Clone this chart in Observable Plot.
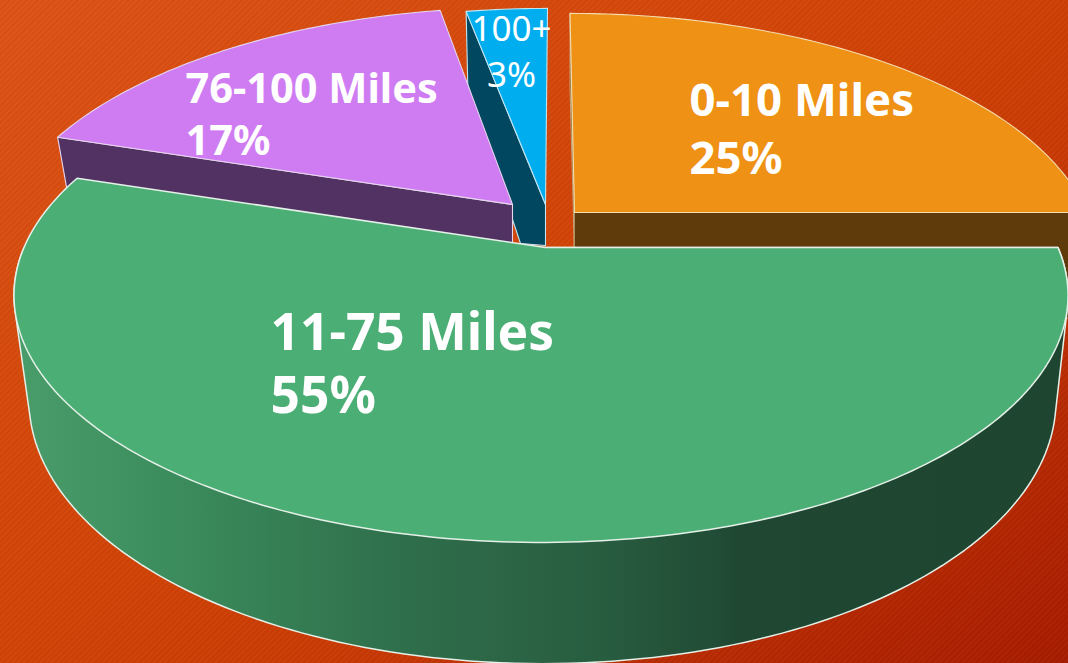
<!DOCTYPE html>
<html><head><meta charset="utf-8">
<script src="https://cdn.jsdelivr.net/npm/d3@7"></script>
<script src="https://cdn.jsdelivr.net/npm/@observablehq/plot@0.6"></script>
<style>
html,body{margin:0;padding:0;width:1068px;height:663px;overflow:hidden;}
body{background:
 repeating-linear-gradient(135deg,rgba(255,255,255,.025) 0 2px,rgba(0,0,0,.02) 2px 4px),
 linear-gradient(145deg,#dc5215 0%,#d04205 48%,#c93a04 62%,#a61b00 100%);}
</style></head><body><div id="chart"></div>
<script>
// clockwise from the east, as on the picture
const categories = ["11-75 Miles", "76-100 Miles", "100+", "0-10 Miles"];
const shares = [55, 17, 3, 25];

// slice styling and layout
const faceColors = ["#4bae74", "#cf7cf3", "#00aeef", "#ee9114"];
const wallColors = ["url(#wall)", "#513262", "#00475f", "#5f3a0a"];
const edgeColors = ["#e4f0e8", "#e6d6ee", "#bfe4f2", "#f5dcae"];
const shifts = [[0, 0], [-33, -43], [0, -43], [29, -35]];
const arcNudge = [[-4.5, 0], [9, 2], [2, 3], [-4.5, 0]];
const labelX = [270, 185, 511, 689];
const labelY = [305, 65, 8, 75];
const labelAnchor = ["start", "start", "middle", "start"];
const labelSize = [51.5, 41.5, 35, 45.5];
const labelWeight = [700, 700, 400, 700];
const labelLead = [1.22, 1.26, 1.31, 1.26];
const labelFont = "'Noto Sans', sans-serif";

// perspective of the pie's top and bottom discs
const cx = 545, cy = 247;
const topD = {a: 237.7, b: 517, k: 0.194, cy};
const botD = {a: 217, b: 466, k: 0.42, cy: 289};
const rad = d => d * Math.PI / 180;
function disc(D, deg, [dx, dy] = [0, 0]) {
  const s = Math.sin(rad(deg)), c = Math.cos(rad(deg)), w = 1 - D.k * s;
  return {x: cx + D.b * c / w + dx, y: D.cy + D.a * s / w + dy};
}
function backBottom(p, deg, [dx, dy]) { // rear walls
  const s = Math.sin(rad(deg));
  return {x: cx + dx + (p.x - cx - dx) * 0.98, y: p.y + 42 - 32 * s};
}
const add = (a, b) => [a[0] + b[0], a[1] + b[1]];
const total = d3.sum(shares);
const starts = d3.cumsum([0, ...shares]).map(v => v / total * 360);

function arc(D, a0, a1, shift) {
  const n = Math.max(2, Math.ceil(Math.abs(a1 - a0)));
  return d3.range(n + 1).map(i => disc(D, a0 + (a1 - a0) * i / n, shift));
}
function shape(pts, fill, stroke, strokeWidth = 1.1) {
  return Plot.line(pts, {x: "x", y: "y", curve: "linear-closed", fill, stroke, strokeWidth, strokeLinejoin: "round"});
}

const marks = [() => {
  const defs = d3.create("svg:defs");
  const g = defs.append("linearGradient").attr("id", "wall").attr("gradientUnits", "userSpaceOnUse")
    .attr("x1", 0).attr("x2", 1068).attr("y1", 0).attr("y2", 0);
  [[0, "#4b9f6b"], [0.18, "#3a8a5b"], [0.38, "#2f6e4b"], [0.56, "#285d40"], [0.7, "#1f4732"], [1, "#1e4530"]]
    .forEach(([o, c]) => g.append("stop").attr("offset", o).attr("stop-color", c));
  return defs.node();
}];

// back-to-front: orange, blue, purple, green
[3, 2, 1].forEach(i => {
  const a0 = starts[i], a1 = starts[i + 1], sh = shifts[i], arcShift = add(sh, arcNudge[i]);
  const apex = {x: cx + sh[0], y: cy + sh[1]};
  const apexB = {x: apex.x, y: apex.y + 41};
  if (i === 3) {
    const o = disc(topD, a1, arcShift), o0 = disc(topD, a0, arcShift);
    marks.push(shape([o0, apex, apexB, backBottom(o0, a0, arcShift)], "#8a6a30", "#c9b48a", 0.8));
    marks.push(shape([apex, o, {x: o.x, y: o.y + 108}, apexB], wallColors[i], "#c9b48a", 0.8));
  } else {
    const o = disc(topD, a0, arcShift);
    const foot = i === 2 ? [{x: apex.x - 25, y: apex.y + 39}] : [];
    marks.push(shape([o, apex, apexB, ...foot, backBottom(o, a0, arcShift)], wallColors[i], edgeColors[i]));
  }
  marks.push(shape([apex, ...arc(topD, a0, a1, arcShift)], faceColors[i], edgeColors[i]));
});
// green: silhouette of the wall, then its face
const frontPts = [...arc(topD, 0, 180, arcNudge[0]), ...arc(botD, 0, 180, [-3, 0])].map(p => [p.x, p.y]);
const hull = d3.polygonHull(frontPts).map(([x, y]) => ({x, y}));
marks.push(shape(hull, wallColors[0], edgeColors[0], 1.5));
marks.push(shape([{x: cx, y: cy}, ...arc(topD, starts[0], starts[1], arcNudge[0])], faceColors[0], edgeColors[0], 1.5));

categories.forEach((c, i) => {
  marks.push(Plot.text([`${c}\n${shares[i]}%`], {
    x: () => labelX[i], y: () => labelY[i], text: d => d,
    fill: "white", fontSize: labelSize[i], fontWeight: labelWeight[i], lineHeight: labelLead[i],
    textAnchor: labelAnchor[i], lineAnchor: "top", fontFamily: labelFont
  }));
});

const chart = Plot.plot({
  width: 1068, height: 663, margin: 0,
  style: {background: "transparent", overflow: "hidden"},
  x: {domain: [0, 1068], range: [0, 1068], axis: null},
  y: {domain: [0, 663], range: [0, 663], axis: null},
  marks
});
document.getElementById("chart").append(chart);
</script></body></html>
